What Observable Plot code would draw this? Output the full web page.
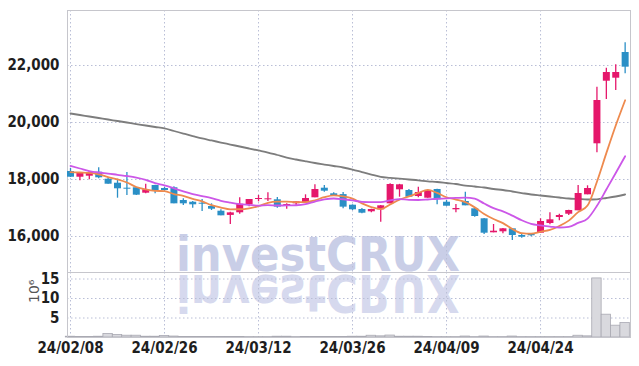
<!DOCTYPE html>
<html><head><meta charset="utf-8">
<script src="https://cdn.jsdelivr.net/npm/d3@7"></script>
<script src="https://cdn.jsdelivr.net/npm/@observablehq/plot@0.6"></script>
<style>
html,body{margin:0;padding:0;background:#fff;}
#wrap{position:relative;width:639px;height:366px;overflow:hidden;}
#wm{position:absolute;left:0;top:0;z-index:0;}
#charts{position:absolute;left:0;top:0;z-index:1;}
#charts svg{display:block;background:transparent;overflow:visible;}
</style></head><body><div id="wrap"><svg id="wm" width="639" height="366"></svg><div id="charts"></div></div>
<script>
const dates = ["24/02/08","24/02/13","24/02/14","24/02/15","24/02/16","24/02/19","24/02/20","24/02/21","24/02/22","24/02/23",
"24/02/26","24/02/27","24/02/28","24/02/29","24/03/04","24/03/05","24/03/06","24/03/07","24/03/08","24/03/11",
"24/03/12","24/03/13","24/03/14","24/03/15","24/03/18","24/03/19","24/03/20","24/03/21","24/03/22","24/03/25",
"24/03/26","24/03/27","24/03/28","24/03/29","24/04/01","24/04/02","24/04/03","24/04/04","24/04/05","24/04/08",
"24/04/09","24/04/11","24/04/12","24/04/15","24/04/16","24/04/17","24/04/18","24/04/19","24/04/22","24/04/23",
"24/04/24","24/04/25","24/04/26","24/04/29","24/04/30","24/05/02","24/05/03","24/05/07","24/05/08","24/05/09"];
const open  = [18280,18080,18116,18256,18010,17870,17695,17710,17520,17790,17684,17710,17263,17203,17168,17053,16888,16740,16832,17112,17298,17288,17288,17077,17147,17182,17358,17695,17498,17470,17098,16947,16867,16937,17147,17639,17614,17403,17344,17649,17203,16937,17228,16972,16621,16130,16165,16270,16035,16070,16116,16456,16667,16782,16902,17463,19253,21449,21555,22456];
const high  = [18386,18230,18280,18410,18060,18010,18245,17720,17835,17800,17720,17750,17323,17228,17298,17147,16937,16850,17358,17298,17439,17533,17368,17147,17217,17463,17814,17790,17533,17544,17110,16980,16960,17090,17849,17830,17649,17730,17625,17660,17263,17123,17554,16985,16630,16421,16280,16280,16070,16100,16621,16832,16784,16925,17790,17779,21239,21906,22025,22797];
const low   = [18070,17955,17990,18025,17835,17344,17440,17440,17500,17500,17590,17147,17088,16993,16877,16912,16726,16421,16782,17042,17218,17228,16993,16958,17077,17182,17358,17554,17439,16972,16912,16796,16832,16502,17147,17379,17379,17358,17344,17112,17063,16832,17077,16677,16070,16130,16095,15860,15940,15990,16116,16410,16550,16737,16902,17463,18937,20807,21123,21709];
const close = [18080,18210,18246,18060,17835,17674,17660,17450,17640,17590,17614,17147,17147,17112,17133,16958,16726,16830,17133,17298,17333,17323,17030,17123,17217,17333,17649,17590,17439,17030,16937,16818,16947,17077,17825,17814,17379,17544,17614,17288,17063,16982,17077,16702,16116,16186,16270,16035,15975,16025,16526,16586,16737,16912,17509,17684,20772,21755,21755,21941];
const ma5   = [18260,18245,18230,18180,18086,18005,17895,17736,17652,17603,17591,17488,17428,17322,17231,17099,17015,16952,16956,16989,17064,17183,17223,17221,17205,17205,17270,17382,17446,17408,17329,17163,17034,16962,17121,17296,17408,17528,17635,17528,17378,17298,17205,17022,16788,16613,16470,16262,16116,16098,16166,16229,16370,16557,16854,17086,17923,18926,19895,20781];
const ma10  = [18475,18386,18298,18246,18210,18165,18123,18070,17990,17870,17798,17692,17582,17487,17417,17345,17252,17190,17139,17110,17082,17099,17088,17089,17097,17135,17227,17303,17334,17307,17267,17217,17208,17204,17265,17313,17286,17281,17299,17324,17337,17353,17366,17329,17158,16995,16884,16733,16569,16443,16389,16350,16316,16337,16476,16626,17076,17648,18226,18818];
const maLong= [20316,20263,20211,20158,20105,20053,20000,19947,19895,19842,19790,19702,19614,19526,19439,19369,19298,19228,19158,19088,19018,18947,18860,18772,18702,18639,18579,18526,18474,18421,18351,18263,18175,18095,18060,18028,18000,17972,17937,17912,17877,17842,17789,17754,17719,17667,17632,17579,17526,17474,17439,17404,17368,17333,17316,17298,17305,17351,17404,17474];
const volume= [0.2,0.15,0.15,0.2,0.9,0.64,0.46,0.46,0.2,0.2,0.4,0.25,0.15,0.15,0.15,0.15,0.15,0.15,0.15,0.1,0.1,0.1,0.2,0.2,0.1,0.15,0.15,0.15,0.15,0.15,0.2,0.2,0.45,0.3,0.5,0.2,0.2,0.2,0.15,0.1,0.1,0.1,0.25,0.1,0.25,0.1,0.1,0.25,0.1,0.1,0.1,0.1,0.1,0.1,0.45,0.3,15.15,5.85,3.03,3.7];
const priceTicks = [16000,18000,20000,22000];
const volTicks = [5,10,15];
const dateTickIdx = [0,10,20,30,40,50];
const watermark = "investCRUX";
const volUnit = "10⁶";

const rows = dates.map((d,i)=>({i, date:d, open:open[i], high:high[i], low:low[i], close:close[i],
  ma5:ma5[i], ma10:ma10[i], maLong:maLong[i], vol:volume[i], up: close[i] >= open[i]}));
const UP = "#e5176b", DOWN = "#2a8fc6";
const font = '"Liberation Sans Narrow","Arial Narrow","DejaVu Sans Condensed",sans-serif';
const xDomain = [-0.32, 59.57];
const grid = {stroke:"#b9bed6", strokeOpacity:1, strokeDasharray:"1.5,2.5", strokeWidth:1};
const frameColor = "#c6c6cc";

const main = Plot.plot({
  width:639, height:272, marginTop:10, marginBottom:0, marginLeft:67, marginRight:9,
  style:{background:"transparent", fontFamily:font, fontSize:"15px", fontWeight:"bold", color:"#1e1e1e"},
  x:{type:"linear", domain:xDomain, axis:null},
  y:{domain:[14737, 23930], axis:null},
  color:{type:"identity"},
  marks:[
    Plot.gridX(dateTickIdx, grid),
    Plot.gridY(priceTicks, grid),
    Plot.axisY(priceTicks, {tickSize:0, tickPadding:8, tickFormat:d3.format(","), label:null}),
    Plot.frame({stroke:frameColor}),
    Plot.line(rows, {x:"i", y:"maLong", stroke:"#7d7d7d", strokeWidth:1.8, curve:"monotone-x"}),
    Plot.ruleX(rows, {x:"i", y1:"low", y2:"high", stroke:d=>d.up?UP:DOWN, strokeWidth:1.3}),
    Plot.ruleX(rows, {x:"i", y1:"open", y2:"close", stroke:d=>d.up?UP:DOWN, strokeWidth:7}),
    Plot.line(rows, {x:"i", y:"ma5", stroke:"#ee8a4e", strokeWidth:1.8, curve:"monotone-x"}),
    Plot.line(rows, {x:"i", y:"ma10", stroke:"#cc57e8", strokeWidth:1.8, curve:"monotone-x"})
  ]
});

const vol = Plot.plot({
  width:639, height:94, marginTop:0, marginBottom:29, marginLeft:67, marginRight:9,
  style:{background:"transparent", fontFamily:font, fontSize:"15px", fontWeight:"bold", color:"#1e1e1e"},
  x:{type:"linear", domain:xDomain, axis:null},
  y:{domain:[0, 16.67], axis:null},
  marks:[
    Plot.gridX(dateTickIdx, grid),
    Plot.gridY(volTicks, grid),
    Plot.rectY(rows, {x1:d=>d.i-0.5, x2:d=>d.i+0.5, y:"vol", fill:"#d9d9de", stroke:"#a9a9b2", strokeWidth:0.8}),
    Plot.frame({stroke:frameColor}),
    Plot.axisY(volTicks, {tickSize:0, tickPadding:8, label:null}),
    Plot.axisX(dateTickIdx, {tickSize:0, tickPadding:5, tickFormat:i=>dates[i], label:null}),
    Plot.text([volUnit], {frameAnchor:"left", dx:-33, dy:-2, rotate:-90, fontFamily:"DejaVu Sans", fontWeight:"normal", fontSize:14, fill:"#555"})
  ]
});

document.getElementById("charts").append(main, vol);

const wm = d3.select("#wm");
wm.append("text").attr("x",176).attr("y",271)
  .attr("font-family","DejaVu Sans, sans-serif").attr("font-weight","bold").attr("font-size",48)
  .attr("textLength",284).attr("lengthAdjust","spacingAndGlyphs")
  .attr("fill","#c9cee7").text(watermark);
wm.append("g").attr("transform","translate(0,274) scale(1,-1.08)")
  .append("text").attr("x",176).attr("y",-1)
  .attr("font-family","DejaVu Sans, sans-serif").attr("font-weight","bold").attr("font-size",48)
  .attr("textLength",284).attr("lengthAdjust","spacingAndGlyphs")
  .attr("fill","#d6d9ee").text(watermark);
</script></body></html>
